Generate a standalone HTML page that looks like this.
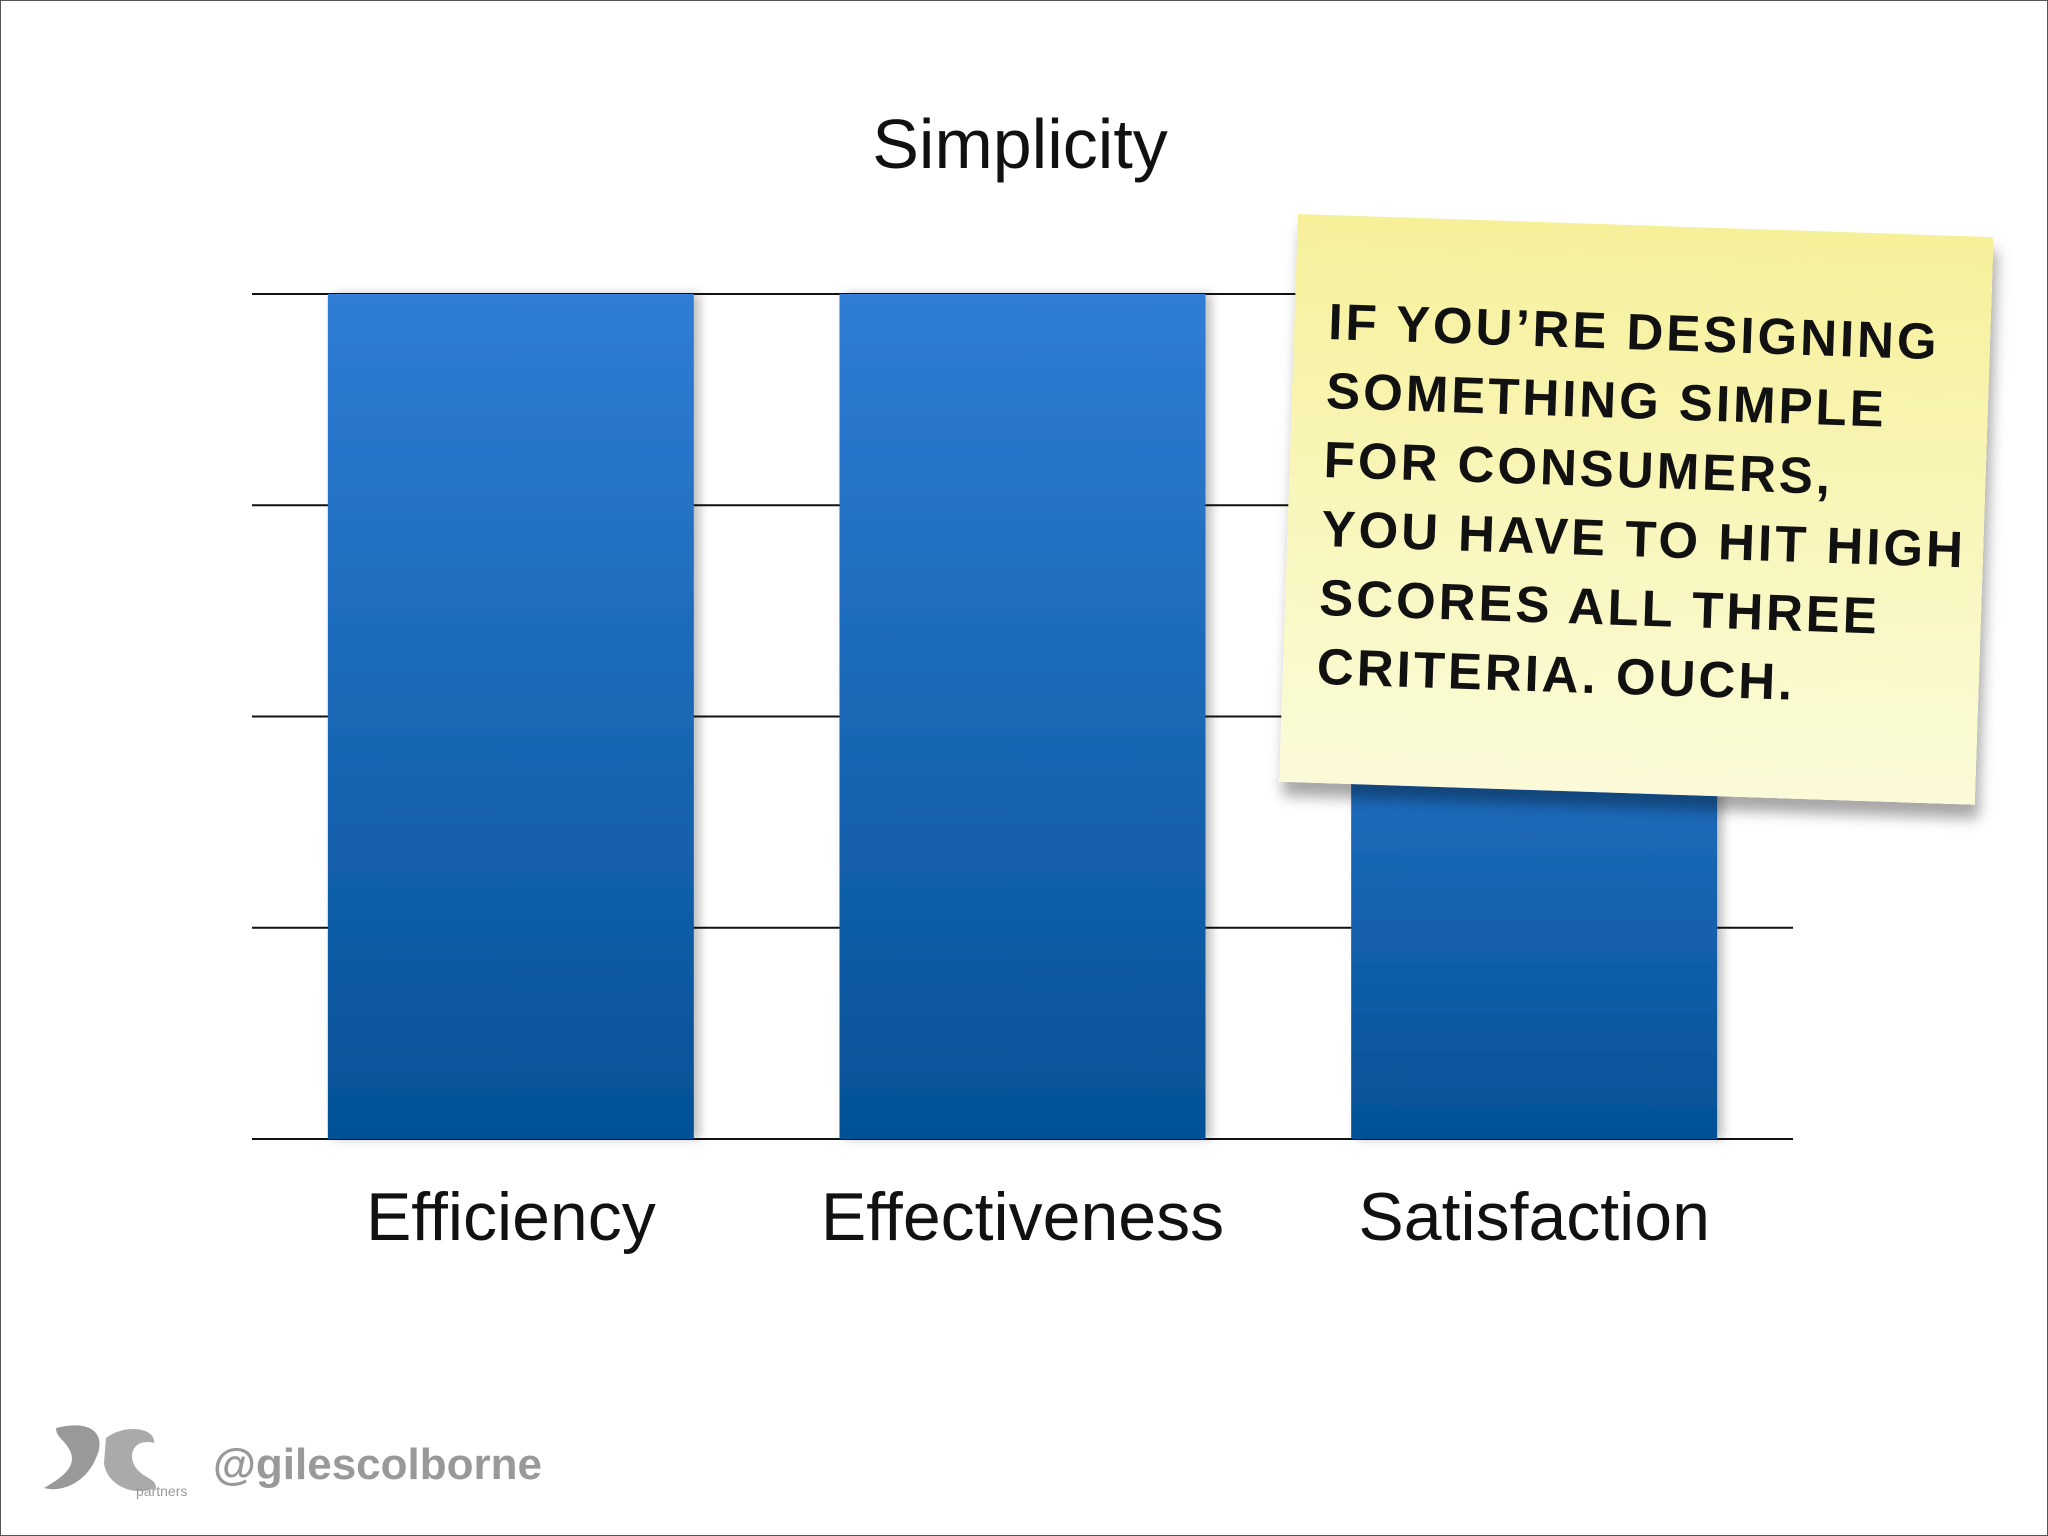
<!DOCTYPE html>
<html><head><meta charset="utf-8"><style>
html,body{margin:0;padding:0;background:#fff;}
body{width:2048px;height:1536px;position:relative;overflow:hidden;font-family:"Liberation Sans",sans-serif;}
#frame{position:absolute;left:0;top:0;width:2046px;height:1534px;border:1px solid #555;}
#note{position:absolute;left:1298px;top:214px;width:696px;height:568px;transform:rotate(1.9deg);transform-origin:0 0;
background:linear-gradient(#f6f09a,#fafad0 85%,#fbf9d8);box-shadow:4px 14px 14px rgba(0,0,0,0.35);}
#note-text{position:absolute;left:34px;top:72px;font-family:"Liberation Sans",sans-serif;font-weight:bold;font-size:51px;line-height:69px;color:#111;letter-spacing:3px;white-space:pre;}
</style></head><body>
<div id="frame"></div>
<svg id="chart" width="2048" height="1536" style="position:absolute;left:0;top:0">
<defs><linearGradient id="bg" x1="0" y1="0" x2="0" y2="1"><stop offset="0" stop-color="#307dd6"/><stop offset="1" stop-color="#045196"/></linearGradient>
<filter id="sh" x="-10%" y="-5%" width="130%" height="110%"><feDropShadow dx="6" dy="0" stdDeviation="5" flood-opacity="0.25"/></filter></defs>
<g id="grid"></g><g id="bars"></g><g id="labels"></g>
<text x="1020" y="168" font-size="70" text-anchor="middle" fill="#111">Simplicity</text>
</svg>
<div id="note"><div id="note-text">IF YOU’RE DESIGNING
SOMETHING SIMPLE
FOR CONSUMERS,
YOU HAVE TO HIT HIGH
SCORES ALL THREE
CRITERIA. OUCH.</div></div>
<svg width="170" height="90" style="position:absolute;left:36px;top:1418px">
<path d="M20 10 C60 0 70 20 60 40 C50 65 25 75 8 70 C25 60 40 50 35 35 C30 22 20 20 20 10Z" fill="#999"/>
<path d="M70 20 C90 5 120 10 118 25 C100 20 90 35 100 50 C110 62 120 60 120 70 C95 80 70 65 68 45Z" fill="#aaa"/>
<text x="100" y="78" font-size="14" fill="#999">partners</text>
</svg>
<div style="position:absolute;left:213px;top:1440px;font-size:44px;font-weight:bold;color:#999">@gilescolborne</div>
<script>
const categories=["Efficiency","Effectiveness","Satisfaction"];
const values=[4,4,2.8];
const ticks=[0,1,2,3,4];
const ns="http://www.w3.org/2000/svg";
const x0=252,x1=1793,yBase=1139,yTop=294,maxV=4;
const y=v=>yBase-(v/maxV)*(yBase-yTop);
const band=(x1-x0)/categories.length;
const xc=i=>x0+band*(i+0.5)+ (i-1)*-2;
const grid=document.getElementById('grid');
ticks.forEach(t=>{const l=document.createElementNS(ns,'line');
l.setAttribute('x1',x0);l.setAttribute('x2',x1);l.setAttribute('y1',y(t));l.setAttribute('y2',y(t));
l.setAttribute('stroke','#111');l.setAttribute('stroke-width','2');


grid.appendChild(l);});
const bars=document.getElementById('bars'),labels=document.getElementById('labels');
const bw=366;
categories.forEach((c,i)=>{const r=document.createElementNS(ns,'rect');
r.setAttribute('x',xc(i)-bw/2);r.setAttribute('width',bw);r.setAttribute('y',y(values[i]));r.setAttribute('height',yBase-y(values[i]));
r.setAttribute('fill','url(#bg)');r.setAttribute('filter','url(#sh)');


bars.appendChild(r);
const t=document.createElementNS(ns,'text');
t.setAttribute('x',xc(i));t.setAttribute('y',1240);t.setAttribute('font-size','68');t.setAttribute('text-anchor','middle');t.setAttribute('fill','#111');
t.textContent=c;


labels.appendChild(t);});
</script>
</body></html>
